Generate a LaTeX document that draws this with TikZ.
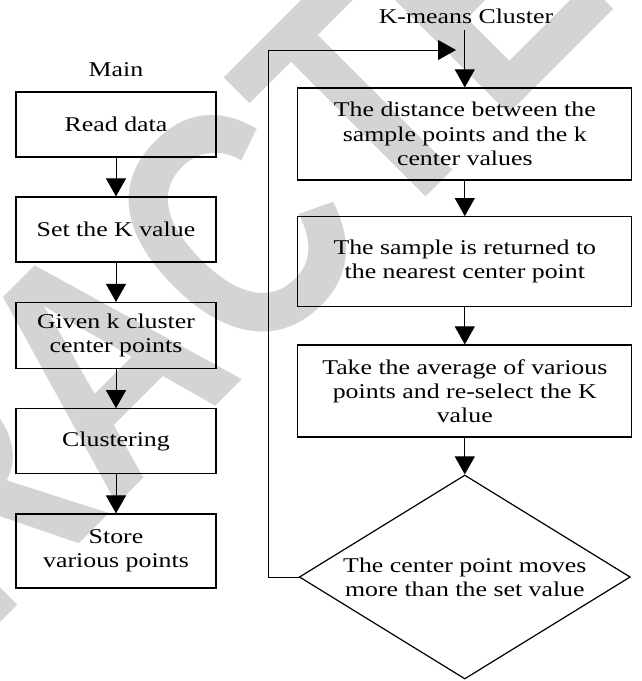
\documentclass[tikz,border=0pt]{standalone}
\usepackage{fontspec}
\setmainfont{Liberation Serif}[FakeStretch=1.23]
\newfontfamily\stampfont{Liberation Sans}[FakeStretch=0.8]
\usepackage{tikz}
\usetikzlibrary{arrows.meta,positioning,shapes.geometric}
\tikzset{
    >={Triangle[length=18pt,width=20pt]},
    line/.style={draw, line width=1pt, ->},
    font={\fontsize{21pt}{24.2pt}\selectfont},
}

\begin{document}
\begin{tikzpicture}
[
    x=1pt, y=-1pt,
    every node/.style={inner sep=0pt, align=center},
    mainbox/.style={shape=rectangle, draw, line width=1.2pt, minimum width=200pt, minimum height=65pt},
    kbox/.style={shape=rectangle, draw, line width=1.2pt, minimum width=334pt, minimum height=92pt},
    decision/.style={shape=diamond, draw, line width=1.2pt, shape aspect=1.62, minimum width=331pt, minimum height=204pt},
    wmark/.style={text=black!17, rotate=45, font={\stampfont\bfseries\fontsize{330pt}{330pt}\selectfont}},
]
\useasboundingbox (0,0) rectangle (642,681);
\clip (0,0) rectangle (642,681);
% watermark behind the chart
\node(wm) at (100,362)[wmark]{RETRACTED};
% main routine
\node(main) at (116,70){Main};
\node(read) at (116,124.5)[mainbox]{Read data};
\node(setk) at (116,229.5)[mainbox]{Set the K value};
\node(given) at (116,335.5)[mainbox, minimum height=66pt]{Given k cluster\\center points};
\node(clus) at (116,441.3)[mainbox]{Clustering};
\node(store) at (116,551)[mainbox, minimum height=74pt]{Store\\various points};
\draw[line] (read) -- (setk);
\draw[line] (setk) -- (given);
\draw[line] (given) -- (clus);
\draw[line] (clus) -- (store);
% k-means routine
\node(kmeans) at (466,16){K-means Cluster};
\node(dist) at (464.8,134)[kbox]{The distance between the\\sample points and the k\\center values};
\node(near) at (464.8,261.7)[kbox, minimum height=90pt]{The sample is returned to\\the nearest center point};
\node(avg) at (464.8,391)[kbox]{Take the average of various\\points and re-select the K\\value};
\node(move) at (464.8,577)[decision]{The center point moves\\more than the set value};
\coordinate(kin) at (464.8,30);
\coordinate(loopdown) at (268,577);
\coordinate(loopup) at (268,50);
\coordinate(loopend) at (456,50);
\draw[line] (kin) -- (dist);
\draw[line] (dist) -- (near);
\draw[line] (near) -- (avg);
\draw[line] (avg) -- (move);
\draw[line] (move.west) -- (loopdown) -- (loopup) -- (loopend);
\end{tikzpicture}
\end{document}
